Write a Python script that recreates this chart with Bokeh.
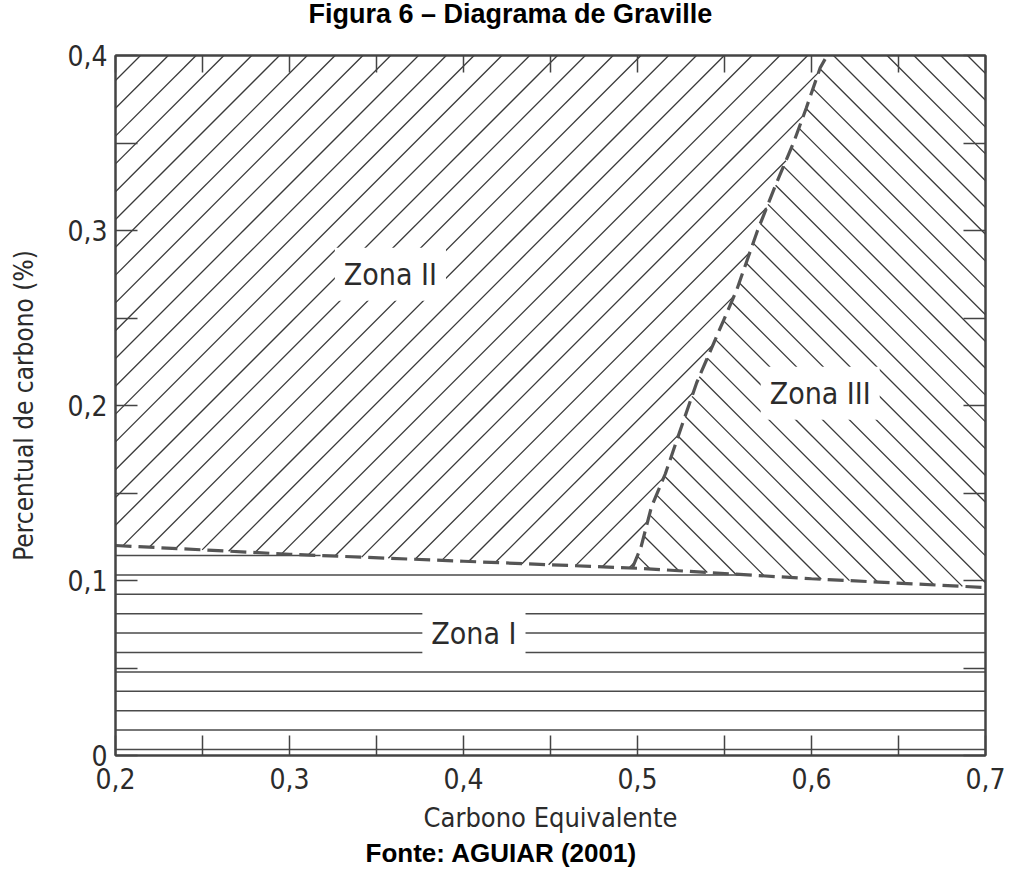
import math
from bokeh.plotting import figure
from bokeh.layouts import column
from bokeh.models import FixedTicker, LinearAxis, Label, Title, Range1d
from bokeh.embed import file_html
from bokeh.resources import INLINE

# ---------------- data ----------------
x_ticks = [0.2, 0.3, 0.4, 0.5, 0.6, 0.7]
x_tick_labels = ["0,2", "0,3", "0,4", "0,5", "0,6", "0,7"]
x_minor = [0.25, 0.35, 0.45, 0.55, 0.65]
y_ticks = [0.0, 0.1, 0.2, 0.3, 0.4]
y_tick_labels = ["0", "0,1", "0,2", "0,3", "0,4"]
y_minor = [0.05, 0.15, 0.25, 0.35]

# dashed limit of Zone I
lower_x = [0.2, 0.3, 0.4, 0.5, 0.6, 0.7]
lower_y = [0.120, 0.115, 0.111, 0.107, 0.101, 0.096]

# dashed limit between Zone II and Zone III
curve_x = [0.497, 0.502, 0.508, 0.516, 0.526, 0.534, 0.557, 0.569, 0.579, 0.590, 0.597, 0.605, 0.609]
curve_y = [0.107, 0.119, 0.142, 0.161, 0.190, 0.213, 0.266, 0.300, 0.325, 0.351, 0.370, 0.393, 0.400]

zone_names = ["Zona I", "Zona II", "Zona III"]
zone_label_x = [0.406, 0.358, 0.605]
zone_label_y = [0.070, 0.275, 0.207]

TITLE = "Figura 6 \u2013 Diagrama de Graville"
SOURCE = "Fonte: AGUIAR (2001)"
X_LABEL = "Carbono Equivalente"
Y_LABEL = "Percentual de carbono (%)"

X_MIN, X_MAX = 0.2, 0.7
Y_MIN, Y_MAX = 0.0, 0.4

# ---------------- layout / style ----------------
PAGE_W = 1011
TITLE_H = 34
FRAME_LEFT = 115
FRAME_W, FRAME_H = 870, 700
KX = FRAME_W / (X_MAX - X_MIN)
KY = FRAME_H / (Y_MAX - Y_MIN)
NARROW = "'Liberation Sans Narrow', 'DejaVu Sans Condensed', sans-serif"
TXT = "#2b2b2b"
FRAME = "#444444"
HATCH_COLOR = "#3a3a3a"

# ---------------- zone polygons built from the data ----------------
zone1_x = lower_x + [X_MAX, X_MIN]
zone1_y = lower_y + [Y_MIN, Y_MIN]

left_part = [(x, y) for x, y in zip(lower_x, lower_y) if x < curve_x[0]]
zone2_x = [q[0] for q in left_part] + curve_x + [X_MIN]
zone2_y = [q[1] for q in left_part] + curve_y + [Y_MAX]

right_part = [(x, y) for x, y in zip(lower_x, lower_y) if x > curve_x[0]][::-1]
zone3_x = curve_x + [X_MAX] + [q[0] for q in right_part]
zone3_y = curve_y + [Y_MAX] + [q[1] for q in right_part]


def hatch(poly_x, poly_y, a, b, step, phase):
    """Hatch lines a*px + b*py = const (pixel space) clipped to a polygon."""
    P = [((x - X_MIN) * KX, (y - Y_MIN) * KY) for x, y in zip(poly_x, poly_y)]
    vals = [a * x + b * y for x, y in P]
    lo, hi = min(vals), max(vals)
    u = phase + math.ceil((lo - phase) / step) * step
    xs, ys = [], []
    n = len(P)
    while u < hi:
        hits = []
        for i in range(n):
            (x1, y1), (x2, y2) = P[i], P[(i + 1) % n]
            f1, f2 = a * x1 + b * y1 - u, a * x2 + b * y2 - u
            if (f1 < 0) != (f2 < 0):
                t = f1 / (f1 - f2)
                hits.append((x1 + t * (x2 - x1), y1 + t * (y2 - y1)))
        hits.sort(key=lambda h: -b * h[0] + a * h[1])
        for j in range(0, len(hits) - 1, 2):
            (xa_, ya_), (xb_, yb_) = hits[j], hits[j + 1]
            xs.append([X_MIN + xa_ / KX, X_MIN + xb_ / KX])
            ys.append([Y_MIN + ya_ / KY, Y_MIN + yb_ / KY])
        u += step
    return xs, ys


# ---------------- title strip (its frame is aligned with the chart frame) ----------------
tfig = figure(width=PAGE_W, height=TITLE_H,
              x_range=Range1d(FRAME_LEFT, FRAME_LEFT + FRAME_W), y_range=Range1d(0, TITLE_H),
              x_axis_type=None, y_axis_type=None, output_backend="svg",
              toolbar_location=None, min_border=0)
tfig.grid.visible = False
tfig.outline_line_color = None
tfig.add_layout(Label(x=308, y=TITLE_H - 13, text=TITLE, text_align="left",
                      text_baseline="middle", text_font="Liberation Sans",
                      text_font_size="27px", text_font_style="bold", text_color="black"))

# ---------------- main chart ----------------
p = figure(frame_width=FRAME_W, frame_height=FRAME_H,
           x_range=Range1d(X_MIN, X_MAX), y_range=Range1d(Y_MIN, Y_MAX),
           output_backend="svg", toolbar_location=None,
           min_border_left=FRAME_LEFT, min_border_right=26,
           min_border_top=55 - TITLE_H, min_border_bottom=117)
p.grid.visible = False
p.outline_line_color = FRAME
p.outline_line_width = 2
p.background_fill_color = "white"
p.border_fill_color = "white"

h1 = hatch(zone1_x, zone1_y, 0, 1, 19.4, 6)          # horizontal lines
h2 = hatch(zone2_x, zone2_y, 1, -1, 27.8, -675)      # "/" lines
h3 = hatch(zone3_x, zone3_y, 1, 1, 26.8, 1418)       # "\" lines
p.multi_line(h1[0], h1[1], line_color="#4a4a4a", line_width=1.5)
p.multi_line(h2[0] + h3[0], h2[1] + h3[1], line_color=HATCH_COLOR, line_width=1.3)

DASH = dict(line_dash="16 7", line_width=3.2, line_color="#555555")
p.line(lower_x, lower_y, **DASH)
p.line(curve_x, curve_y, **DASH)

for name, lx, ly in zip(zone_names, zone_label_x, zone_label_y):
    p.add_layout(Label(x=lx, y=ly, text=name, text_align="center", text_baseline="middle",
                       text_font=NARROW, text_font_size="30px", text_color=TXT,
                       background_fill_color="white", padding=9))


def style_axis(ax, ticks, minor, labels, tick_len, show_labels):
    ax.ticker = FixedTicker(ticks=ticks, minor_ticks=minor)
    ax.axis_line_color = FRAME
    ax.axis_line_width = 2
    ax.major_tick_in = tick_len
    ax.major_tick_out = 0
    ax.minor_tick_in = tick_len
    ax.minor_tick_out = 0
    ax.major_tick_line_color = FRAME
    ax.minor_tick_line_color = FRAME
    ax.major_tick_line_width = 1.5
    ax.minor_tick_line_width = 1.5
    if show_labels:
        ax.major_label_overrides = dict(zip(ticks, labels))
        ax.major_label_text_font = NARROW
        ax.major_label_text_font_size = "28px"
        ax.major_label_text_color = TXT
    else:
        ax.major_label_text_color = None
        ax.major_label_standoff = 0


xa = p.xaxis[0]
style_axis(xa, x_ticks, x_minor, x_tick_labels, 20, True)
xa.major_label_standoff = 12
xa.axis_label = X_LABEL
xa.axis_label_text_font = NARROW
xa.axis_label_text_font_size = "27px"
xa.axis_label_text_font_style = "normal"
xa.axis_label_text_color = TXT
xa.axis_label_standoff = 10

ya = p.yaxis[0]
style_axis(ya, y_ticks, y_minor, y_tick_labels, 22, True)
ya.major_label_standoff = 8
ya.axis_label = Y_LABEL
ya.axis_label_text_font = NARROW
ya.axis_label_text_font_size = "26px"
ya.axis_label_text_font_style = "normal"
ya.axis_label_text_color = TXT
ya.axis_label_standoff = 25

top_ax = LinearAxis()
style_axis(top_ax, x_ticks, x_minor, x_tick_labels, 17, False)
p.add_layout(top_ax, "above")
right_ax = LinearAxis()
style_axis(right_ax, y_ticks, y_minor, y_tick_labels, 22, False)
p.add_layout(right_ax, "right")

p.add_layout(Title(text=SOURCE, align="left", offset=365 - FRAME_LEFT, text_font="Liberation Sans",
                   text_font_size="26px", text_font_style="bold", text_color="black",
                   standoff=0), "below")

page = column(tfig, p, spacing=0)
open("out.html", "w").write(file_html(page, INLINE))
